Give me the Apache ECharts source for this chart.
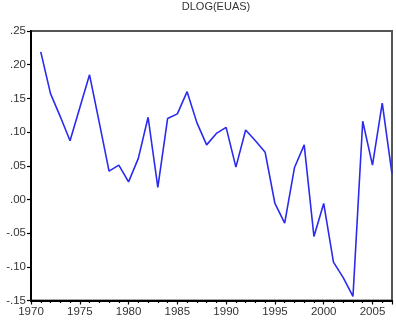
<!DOCTYPE html>
<html><head><meta charset="utf-8">
<script src="https://cdn.jsdelivr.net/npm/echarts@6/dist/echarts.min.js"></script>
<style>html,body{margin:0;padding:0;background:#fff}#c{width:396px;height:330px}</style>
</head><body><div id="c"></div>
<script>
const titleText = 'DLOG(EUAS)';
const years = [1971,1972,1973,1974,1975,1976,1977,1978,1979,1980,1981,1982,1983,1984,1985,1986,1987,1988,1989,1990,1991,1992,1993,1994,1995,1996,1997,1998,1999,2000,2001,2002,2003,2004,2005,2006,2007];
const values = [0.219,0.157,0.123,0.087,0.136,0.185,0.114,0.042,0.051,0.026,0.061,0.122,0.018,0.120,0.127,0.160,0.114,0.081,0.098,0.107,0.048,0.103,0.087,0.070,-0.006,-0.035,0.047,0.081,-0.055,-0.006,-0.093,-0.116,-0.144,0.116,0.051,0.143,0.038];
const yTicks = [-0.15,-0.10,-0.05,0.00,0.05,0.10,0.15,0.20,0.25];

const chart = echarts.init(document.getElementById('c'), null, {renderer:'canvas'});
const fmtY = v => { let s = Math.abs(v).toFixed(2).replace(/^0/, ''); return (v < -1e-9 ? '-' : '') + s; };
chart.setOption({
  animation:false,
  title:{text:titleText,left:211,top:-4,textAlign:'center',textStyle:{fontFamily:'Liberation Sans, Arial',fontSize:11,fontWeight:'normal',color:'#333'}},
  grid:{left:31,right:4,top:31,bottom:29.5,show:true,borderColor:'#555',borderWidth:2,backgroundColor:'#fff'},
  xAxis:{type:'value',min:1970,max:2007,interval:5,
    axisLine:{show:true,onZero:false,lineStyle:{color:'#000',width:2}},
    axisTick:{show:true,length:4,inside:false,lineStyle:{color:'#000',width:1.2}},
    minorTick:{show:true,splitNumber:5,length:2.5,lineStyle:{color:'#000',width:1.2}},
    splitLine:{show:false},
    axisLabel:{fontFamily:'Liberation Sans, Arial',fontSize:11.5,color:'#333',margin:5,showMaxLabel:false,formatter:v=>String(v)}},
  yAxis:{type:'value',min:yTicks[0],max:yTicks[yTicks.length-1],interval:0.05,
    axisLine:{show:true,onZero:false,lineStyle:{color:'#000',width:2}},
    axisTick:{show:true,length:4,lineStyle:{color:'#000',width:1.2}},
    splitLine:{show:false},
    axisLabel:{fontFamily:'Liberation Sans, Arial',fontSize:11.5,color:'#333',margin:5,formatter:fmtY}},
  series:[{type:'line',data:years.map((y,i)=>[y,values[i]]),showSymbol:false,symbol:'none',
    lineStyle:{color:'#2b2bf0',width:1.6},clip:true}]
});
</script></body></html>
